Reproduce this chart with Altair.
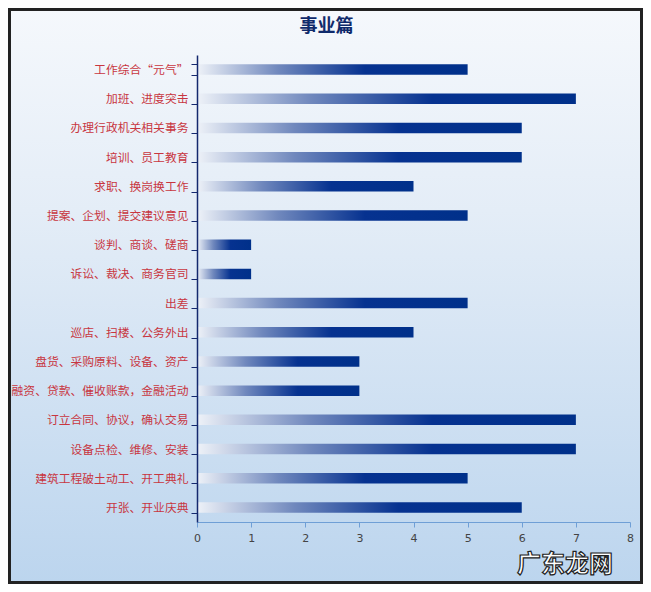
import altair as alt
import pandas as pd

categories = [
    "工作综合“元气”",
    "加班、进度突击",
    "办理行政机关相关事务",
    "培训、员工教育",
    "求职、换岗换工作",
    "提案、企划、提交建议意见",
    "谈判、商谈、磋商",
    "诉讼、裁决、商务官司",
    "出差",
    "巡店、扫楼、公务外出",
    "盘货、采购原料、设备、资产",
    "融资、贷款、催收账款，金融活动",
    "订立合同、协议，确认交易",
    "设备点检、维修、安装",
    "建筑工程破土动工、开工典礼",
    "开张、开业庆典",
]
values = [5, 7, 6, 6, 4, 5, 1, 1, 5, 4, 3, 3, 7, 7, 5, 6]
x_ticks = [0, 1, 2, 3, 4, 5, 6, 7, 8]

df = pd.DataFrame({"cat": categories, "val": values})

W, H = 433, 467
PL, PT, PR, PB = 189, 47, 13, 62

bg = alt.Chart(pd.DataFrame({"a": [0]})).mark_rect(
    color={
        "gradient": "linear", "x1": 0, "y1": 0, "x2": 0, "y2": 1,
        "stops": [
            {"offset": 0, "color": "#f5f8fc"},
            {"offset": 0.35, "color": "#e4edf7"},
            {"offset": 1, "color": "#bcd5ee"},
        ],
    },
    stroke="#222222", strokeWidth=3,
).encode(
    x=alt.value(-PL + 1.5), x2=alt.value(W + PR - 1.5),
    y=alt.value(-PT + 1.5), y2=alt.value(H + PB - 1.5),
)

bars = alt.Chart(df).mark_bar(
    color={
        "gradient": "linear", "x1": 0, "y1": 0, "x2": 1, "y2": 0,
        "stops": [
            {"offset": 0, "color": "#eef2f8"},
            {"offset": 0.3, "color": "#7088bd"},
            {"offset": 0.62, "color": "#063290"},
            {"offset": 1, "color": "#00308a"},
        ],
    },
).encode(
    x=alt.X("val:Q", scale=alt.Scale(domain=[0, 8], nice=False),
            axis=alt.Axis(values=x_ticks, title=None, grid=False, zindex=2,
                          domainColor="#6f9fd6", tickColor="#6f9fd6",
                          tickSize=5, labelColor="#444444", labelFontSize=11,
                          labelPadding=5, labelFont="DejaVu Sans",
                          labelFlush=False)),
    y=alt.Y("cat:N", sort=categories,
            scale=alt.Scale(paddingInner=0.64, paddingOuter=0.32),
            axis=alt.Axis(title=None, tickBand="extent", domainColor="#14286e",
                          tickColor="#14286e", tickSize=6, domainWidth=1.5,
                          labelColor="#c8363f", labelFontSize=11.8, zindex=2,
                          labelFont="Noto Sans CJK SC", labelPadding=3,
                          labelLimit=0)),
)

mark_wm = alt.Chart(pd.DataFrame({"t": ["广东龙网"]})).mark_text(
    font="Noto Sans CJK SC", fontSize=24, fontWeight="bold", fill="white",
    stroke="#222222", strokeWidth=1.2, align="center", baseline="middle",
).encode(text="t:N", x=alt.value(565 - 197), y=alt.value(565 - 55))

chart = alt.layer(bg, bars, mark_wm).properties(
    width=W, height=H,
    autosize=alt.AutoSizeParams(type="none"),
    padding={"left": PL, "top": PT, "right": PR, "bottom": PB},
    title=alt.Title("事业篇", fontSize=18, fontWeight="bold", color="#0f2a6b",
                    font="Noto Sans CJK SC", anchor="middle", dx=-87, offset=-28,
                    zindex=2),
).configure_view(stroke=None).configure(background="#ffffff")

chart.save("out.html", embed_options={"renderer": "svg", "actions": False})
